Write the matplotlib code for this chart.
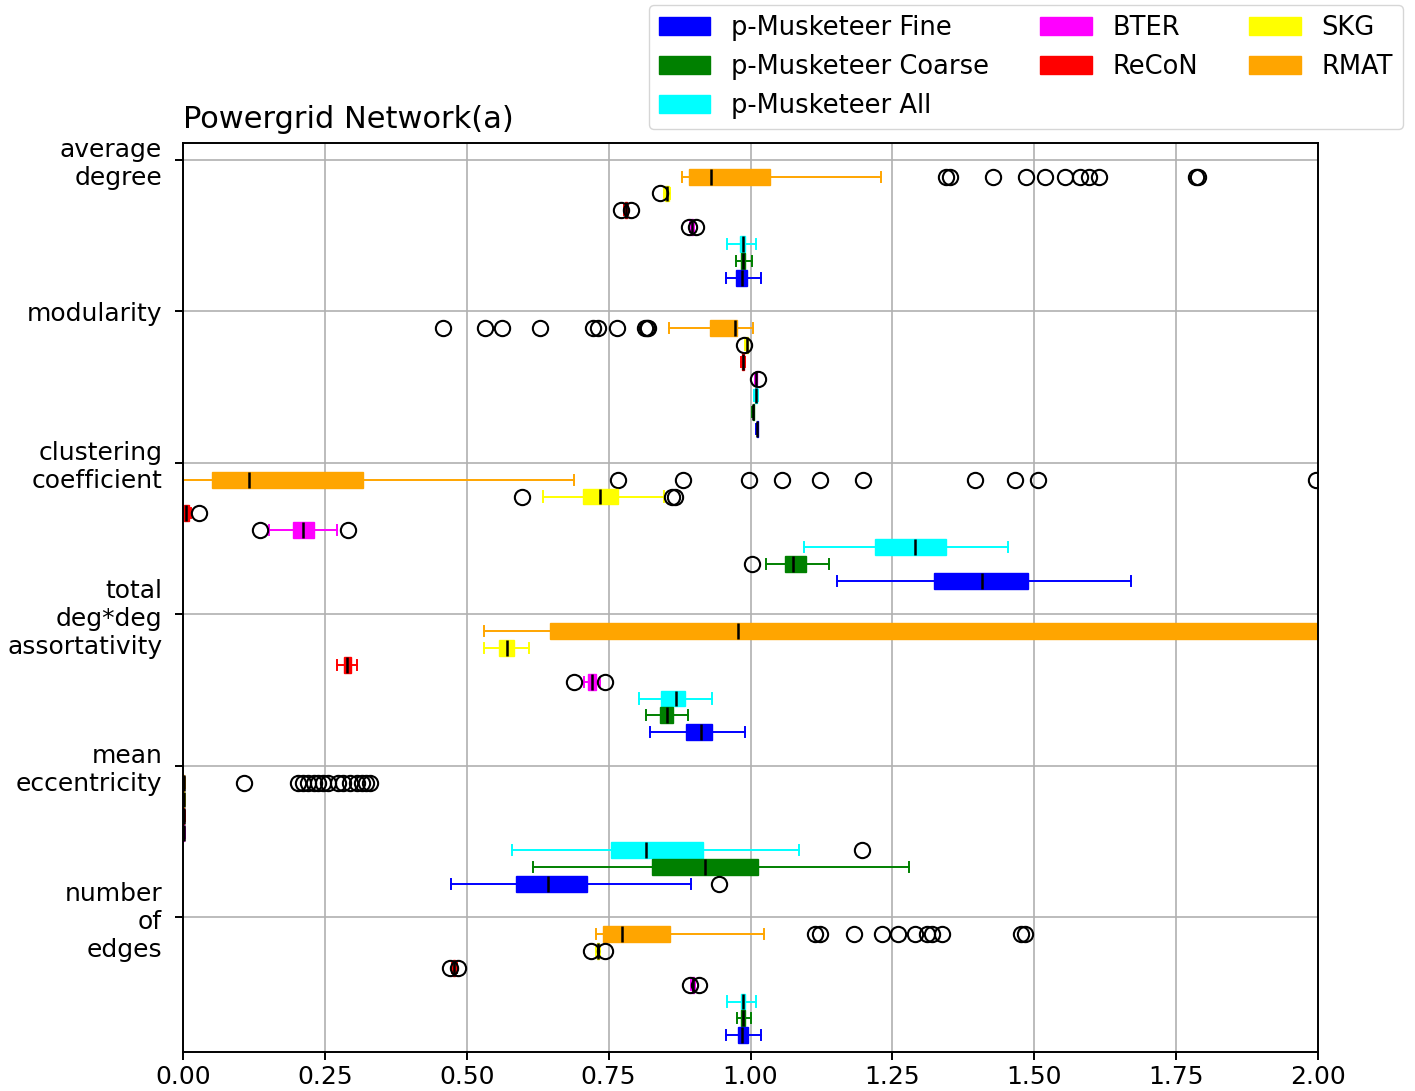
import matplotlib
matplotlib.use("Agg")
import matplotlib.pyplot as plt
import matplotlib.patches as mpatches

# metrics (top to bottom) and methods (top to bottom inside each metric)
METRICS = ["average\ndegree", "modularity", "clustering\ncoefficient",
           "total\ndeg*deg\nassortativity", "mean\neccentricity", "number\nof\nedges"]
METHODS = ["RMAT", "SKG", "ReCoN", "BTER",
           "p-Musketeer All", "p-Musketeer Coarse", "p-Musketeer Fine"]
COLORS = ["orange", "yellow", "red", "magenta", "cyan", "green", "blue"]

# box statistics, rows = METHODS, columns = METRICS
WHISLO = [
    [0.880, 0.857, 0.000, 0.530, 0.000, 0.728],
    [0.848, 0.990, 0.634, 0.530, 0.000, 0.727],
    [0.777, 0.983, 0.000, 0.272, 0.000, 0.474],
    [0.893, 1.008, 0.152, 0.706, 0.000, 0.896],
    [0.959, 1.007, 1.094, 0.803, 0.579, 0.959],
    [0.975, 1.003, 1.027, 0.815, 0.617, 0.976],
    [0.957, 1.010, 1.152, 0.823, 0.472, 0.957],
]
Q1 = [
    [0.892, 0.928, 0.051, 0.647, 0.000, 0.740],
    [0.850, 0.992, 0.704, 0.557, 0.000, 0.729],
    [0.779, 0.985, 0.002, 0.284, 0.000, 0.476],
    [0.895, 1.009, 0.193, 0.713, 0.000, 0.897],
    [0.982, 1.008, 1.219, 0.842, 0.755, 0.983],
    [0.984, 1.004, 1.060, 0.840, 0.827, 0.984],
    [0.975, 1.011, 1.324, 0.886, 0.587, 0.978],
]
MED = [
    [0.931, 0.972, 0.117, 0.978, 0.001, 0.773],
    [0.853, 0.993, 0.735, 0.571, 0.001, 0.731],
    [0.781, 0.987, 0.006, 0.289, 0.001, 0.478],
    [0.897, 1.010, 0.212, 0.720, 0.001, 0.899],
    [0.987, 1.010, 1.290, 0.868, 0.815, 0.987],
    [0.987, 1.005, 1.075, 0.853, 0.919, 0.987],
    [0.985, 1.012, 1.408, 0.912, 0.643, 0.985],
]
Q3 = [
    [1.034, 0.976, 0.317, 2.300, 0.002, 0.858],
    [0.856, 0.995, 0.767, 0.584, 0.002, 0.733],
    [0.783, 0.988, 0.010, 0.296, 0.002, 0.480],
    [0.899, 1.011, 0.230, 0.728, 0.002, 0.901],
    [0.990, 1.011, 1.345, 0.884, 0.917, 0.990],
    [0.990, 1.006, 1.098, 0.864, 1.014, 0.990],
    [0.994, 1.013, 1.489, 0.933, 0.712, 0.996],
]
WHISHI = [
    [1.230, 1.004, 0.689, 2.600, 0.003, 1.023],
    [0.858, 0.996, 0.847, 0.609, 0.003, 0.735],
    [0.785, 0.990, 0.014, 0.307, 0.003, 0.482],
    [0.901, 1.012, 0.271, 0.735, 0.003, 0.903],
    [1.009, 1.013, 1.454, 0.933, 1.085, 1.009],
    [1.002, 1.007, 1.138, 0.890, 1.279, 1.001],
    [1.018, 1.014, 1.670, 0.990, 0.896, 1.018],
]
FLIERS = [
    [[1.344, 1.352, 1.427, 1.486, 1.519, 1.554, 1.580, 1.596, 1.614, 1.785, 1.789],
     [0.458, 0.532, 0.562, 0.629, 0.723, 0.732, 0.764, 0.814, 0.817, 0.820],
     [0.767, 0.881, 0.997, 1.055, 1.123, 1.198, 1.396, 1.466, 1.507, 1.997],
     [],
     [0.107, 0.203, 0.212, 0.221, 0.230, 0.238, 0.247, 0.256, 0.274, 0.282,
      0.294, 0.306, 0.315, 0.323, 0.330],
     [1.114, 1.122, 1.183, 1.232, 1.260, 1.289, 1.311, 1.320, 1.338, 1.476, 1.484]],
    [[0.840], [0.989], [0.597, 0.861, 0.867], [], [], [0.719, 0.744]],
    [[0.772, 0.790], [], [0.029], [], [], [0.470, 0.485]],
    [[0.892, 0.904], [1.013], [0.136, 0.291], [0.689, 0.744], [], [0.894, 0.909]],
    [[], [], [], [], [1.197], []],
    [[], [], [1.003], [], [], []],
    [[], [], [], [], [0.944], []],
]

GROUP_STEP = 9

fig = plt.figure(figsize=(14.15, 10.91), dpi=100)
ax = fig.add_axes([183 / 1415, 39 / 1091, 1135 / 1415, 909 / 1091])

for i, (name, color) in enumerate(zip(METHODS, COLORS)):
    stats = []
    positions = []
    for j in range(len(METRICS)):
        stats.append(dict(med=MED[i][j], q1=Q1[i][j], q3=Q3[i][j],
                          whislo=WHISLO[i][j], whishi=WHISHI[i][j],
                          fliers=FLIERS[i][j]))
        positions.append(j * GROUP_STEP + i + 1)
    ax.bxp(stats, positions=positions, widths=0.95, capwidths=0.6,
           orientation="horizontal", patch_artist=True, manage_ticks=False,
           boxprops=dict(facecolor=color, edgecolor=color, linewidth=1),
           whiskerprops=dict(color=color, linewidth=1.4),
           capprops=dict(color=color, linewidth=1.4),
           medianprops=dict(color="black", linewidth=1.8),
           flierprops=dict(marker="o", markerfacecolor="none",
                           markeredgecolor="black", markersize=11,
                           markeredgewidth=1.5))

ax.set_xlim(0, 2)
ax.set_ylim(53, -1)
ax.set_yticks([j * GROUP_STEP for j in range(len(METRICS))])
ax.set_yticklabels(METRICS)
ax.set_xticks([0, 0.25, 0.5, 0.75, 1.0, 1.25, 1.5, 1.75, 2.0])
ax.tick_params(labelsize=18, length=6, width=1.4)
ax.tick_params(axis="y", pad=9)
ax.grid(True, color="#b0b0b0", linewidth=1.2)
ax.set_axisbelow(True)
for s in ax.spines.values():
    s.set_linewidth(1.4)

ax.set_title("Powergrid Network(a)", loc="left", fontsize=22, pad=11)

legend_order = [6, 5, 4, 3, 2, 1, 0]
handles = [mpatches.Patch(color=COLORS[k], label=METHODS[k]) for k in legend_order]
fig.legend(handles=handles, ncol=3, fontsize=18.5, loc="upper right",
           bbox_to_anchor=(1403 / 1415, 1 - 5 / 1091), borderaxespad=0,
           labelspacing=0.5, columnspacing=2.0, handlelength=2.0)

fig.savefig("out.png", dpi=100)
